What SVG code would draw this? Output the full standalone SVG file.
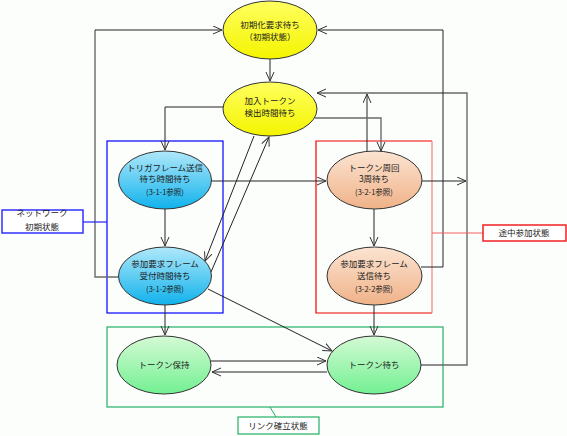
<svg xmlns="http://www.w3.org/2000/svg" width="567" height="436" viewBox="0 0 567 436">
<defs>
<linearGradient id="gy" x1="0" y1="0" x2="0" y2="1"><stop offset="0" stop-color="#ffff60"/><stop offset="1" stop-color="#f4f400"/></linearGradient>
<linearGradient id="gb" x1="0" y1="0" x2="0" y2="1"><stop offset="0" stop-color="#b0e8fa"/><stop offset="1" stop-color="#10b2ec"/></linearGradient>
<linearGradient id="go" x1="0" y1="0" x2="0" y2="1"><stop offset="0" stop-color="#fce4d2"/><stop offset="1" stop-color="#efb288"/></linearGradient>
<linearGradient id="gg" x1="0" y1="0" x2="0" y2="1"><stop offset="0" stop-color="#d4fad4"/><stop offset="1" stop-color="#72f092"/></linearGradient>
<marker id="ar" markerUnits="userSpaceOnUse" markerWidth="12" markerHeight="10" refX="9" refY="4.5" orient="auto">
<path d="M0,0.5 L9,4.5 L0,8.5" fill="none" stroke="#333" stroke-width="1"/>
</marker>
<style>
.e{stroke:#333;stroke-width:1}
.t{font-family:"Noto Sans CJK JP","Noto Sans",sans-serif;font-size:8.5px;fill:#1a1a1a;text-anchor:middle}
.s{font-size:7.5px}
.k{fill:none;stroke:#222;stroke-width:1}
.g{fill:none;stroke:#6a6a6a;stroke-width:1.4}
.a{marker-end:url(#ar)}
</style>
</defs>
<rect width="567" height="436" fill="#fcfefc"/>

<g id="groups">
<rect x="107" y="141" width="116" height="172" fill="none" stroke="#0000ff" stroke-width="1.2"/>
<path d="M432,141 H316 V313 H432" fill="none" stroke="#f00000" stroke-width="1.2"/>
<path d="M432,141 V313" fill="none" stroke="#f48080" stroke-width="1.2"/>
<rect x="107" y="327" width="336" height="80" fill="none" stroke="#22b064" stroke-width="1.2"/>
</g>

<g id="connectors">
<path class="g" d="M118,277 H95 V30"/>
<path class="k a" d="M95,30 H222"/>
<path class="k a" d="M270,59 V81"/>
<path class="k a" d="M223,107 H165 V150"/>
<path class="g a" d="M421,365 H467 V93 H317"/>
<path class="k a" d="M367,152 V94"/>
<path class="g a" d="M315,118 H381 V151"/>
<path class="k a" d="M421,267 H443 V30 H318"/>
<path class="k a" d="M211,181 H326"/>
<path class="k a" d="M422,181 H466"/>
<path class="k a" d="M374,209 V246"/>
<path class="k a" d="M374,305 V335"/>
<path class="k a" d="M165,209 V246"/>
<path class="k a" d="M165,305 V335"/>
<path class="k a" d="M254,136 L205,261"/>
<path class="k a" d="M211,272 L269,137"/>
<path class="k a" d="M208,289 L332,351"/>
<path class="g a" d="M211,361 H326"/>
<path class="k a" d="M327,372 H212"/>
<path fill="none" stroke="#2020ff" stroke-width="1.2" d="M83,222 H107"/>
<path fill="none" stroke="#f06060" stroke-width="1.2" d="M432,233 H483"/>
<path fill="none" stroke="#22b064" stroke-width="1" d="M270,407 L276,417"/>
</g>

<g id="n-init">
<ellipse class="e" cx="270" cy="30" rx="47" ry="29" fill="url(#gy)"/>
<text class="t" x="270" y="28">初期化要求待ち</text>
<text class="t" x="270" y="40">（初期状態）</text>
</g>
<g id="n-join">
<ellipse class="e" cx="270" cy="109" rx="47" ry="27" fill="url(#gy)"/>
<text class="t" x="270" y="104">加入トークン</text>
<text class="t" x="270" y="116">検出時間待ち</text>
</g>
<g id="n-trig">
<ellipse class="e" cx="165" cy="180" rx="46.5" ry="29" fill="url(#gb)"/>
<text class="t" x="165" y="171">トリガフレーム送信</text>
<text class="t" x="165" y="182">待ち時間待ち</text>
<text class="t s" x="165" y="195">(3-1-1参照)</text>
</g>
<g id="n-recv">
<ellipse class="e" cx="165" cy="276" rx="46.5" ry="29" fill="url(#gb)"/>
<text class="t" x="165" y="267">参加要求フレーム</text>
<text class="t" x="165" y="279">受付時間待ち</text>
<text class="t s" x="165" y="292">(3-1-2参照)</text>
</g>
<g id="n-circ">
<ellipse class="e" cx="374.5" cy="180" rx="47.5" ry="29" fill="url(#go)"/>
<text class="t" x="374" y="171">トークン周回</text>
<text class="t" x="374" y="182">3周待ち</text>
<text class="t s" x="374" y="195">(3-2-1参照)</text>
</g>
<g id="n-send">
<ellipse class="e" cx="374.5" cy="276" rx="47.5" ry="29" fill="url(#go)"/>
<text class="t" x="374" y="267">参加要求フレーム</text>
<text class="t" x="374" y="279">送信待ち</text>
<text class="t s" x="374" y="292">(3-2-2参照)</text>
</g>
<g id="n-hold">
<ellipse class="e" cx="164" cy="365" rx="47" ry="29" fill="url(#gg)"/>
<text class="t" x="164" y="368">トークン保持</text>
</g>
<g id="n-wait">
<ellipse class="e" cx="374" cy="365" rx="47" ry="29" fill="url(#gg)"/>
<text class="t" x="374" y="368">トークン待ち</text>
</g>

<g id="l-net">
<rect x="2" y="210" width="81" height="23" fill="#fff" stroke="#3030ff" stroke-width="1.5"/>
<text class="t" x="42" y="216">ネットワーク</text>
<text class="t" x="42" y="230">初期状態</text>
</g>
<g id="l-mid">
<rect x="483" y="225" width="83" height="16" fill="#fff" stroke="#f02020" stroke-width="1.5"/>
<text class="t" x="524" y="236">途中参加状態</text>
</g>
<g id="l-link">
<rect x="238" y="417" width="81" height="17" fill="#fff" stroke="#22b064" stroke-width="1.2"/>
<text class="t" x="278" y="429">リンク確立状態</text>
</g>
</svg>
